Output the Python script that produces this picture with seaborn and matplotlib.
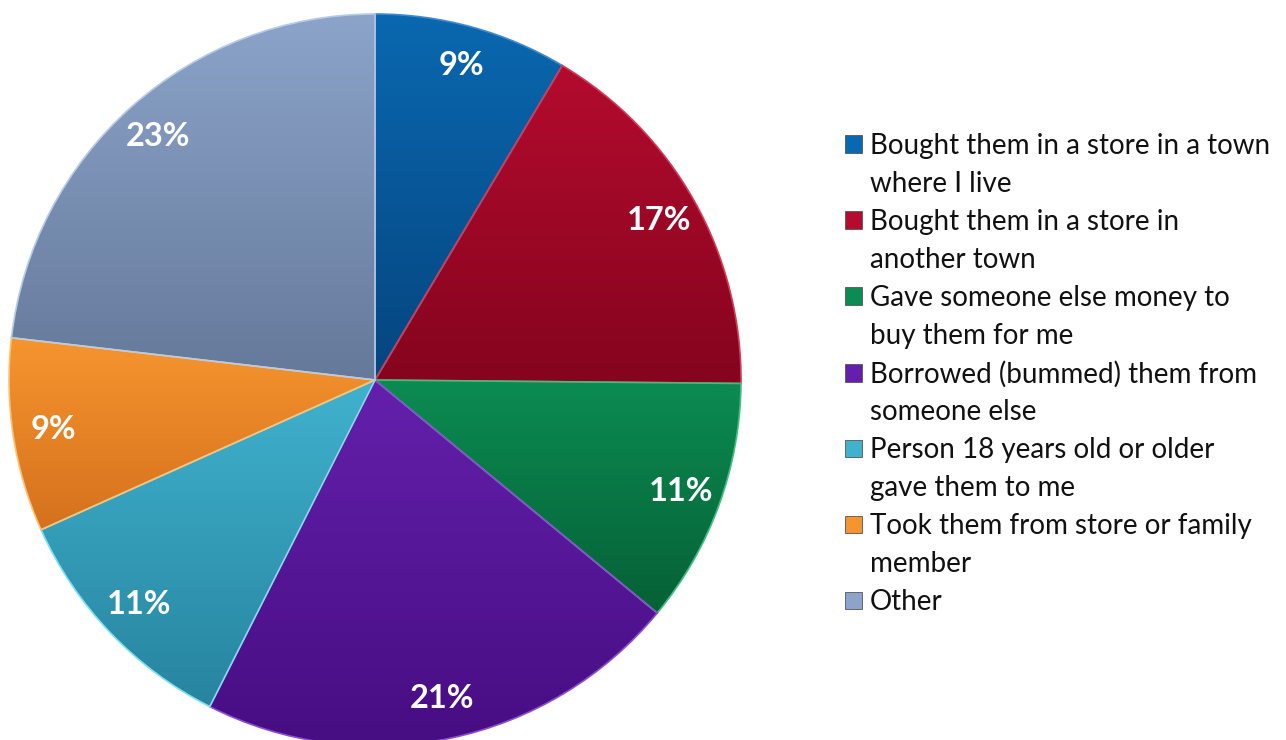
import matplotlib
matplotlib.use("Agg")
import matplotlib.pyplot as plt
import numpy as np
import seaborn as sns
from matplotlib.colors import LinearSegmentedColormap
from matplotlib.patches import Patch

# where the cigarettes came from (share of respondents, %)
sources = [
    "Bought them in a store in a town\nwhere I live",
    "Bought them in a store in\nanother town",
    "Gave someone else money to\nbuy them for me",
    "Borrowed (bummed) them from\nsomeone else",
    "Person 18 years old or older\ngave them to me",
    "Took them from store or family\nmember",
    "Other",
]
shares = [8.6, 16.7, 10.9, 21.6, 10.9, 8.6, 23.3]

# light (top) / dark (bottom) shade per slice
tops = ["#0a68b0", "#b40b2e", "#0b8c52", "#6420ac", "#40b2ce", "#f6952f", "#8ca4ca"]
bottoms = ["#05457f", "#85041e", "#066036", "#470d82", "#27849f", "#d5711d", "#65799a"]
edges = ["#3f8ad0", "#d23a55", "#3fbf7f", "#8a4fd0", "#7fe0f5", "#ffc070", "#b8cbe6"]

sns.set_theme(style="white")
plt.rcParams["font.family"] = ["Lato", "DejaVu Sans"]

fig = plt.figure(figsize=(12.86, 7.40), dpi=100)
ax = fig.add_axes([9 / 1286, -6 / 740, 732 / 1286, 732 / 740])

wedges, texts, autotexts = ax.pie(
    shares,
    colors=tops,
    startangle=90,
    counterclock=False,
    radius=1.0,
    autopct=lambda p: f"{p:.0f}%",
    pctdistance=0.89,
    textprops=dict(color="white", fontsize=23.5, fontweight="bold"),
    wedgeprops=dict(linewidth=1.2),
)

for w, top, bot, ec in zip(wedges, tops, bottoms, edges):
    bb = w.get_path().get_extents()
    cmap = LinearSegmentedColormap.from_list("g", [top, bot])
    grad = np.linspace(0, 1, 256).reshape(-1, 1)
    im = ax.imshow(grad, cmap=cmap, aspect="auto", origin="upper",
                   extent=[bb.x0, bb.x1, bb.y0, bb.y1], zorder=2)
    im.set_clip_path(w)
    w.set_facecolor("none")
    w.set_edgecolor(ec)
    w.set_zorder(3)

for t in autotexts:
    t.set_zorder(5)

ax.set_xlim(-1, 1)
ax.set_ylim(-1, 1)
ax.set_aspect("equal")
ax.axis("off")

# legend: one row per printed line, swatch only on first line
handles, labels = [], []
for src, top in zip(sources, tops):
    for i, line in enumerate(src.split("\n")):
        if i == 0:
            handles.append(Patch(facecolor=top, edgecolor="#555555", linewidth=0.6))
        else:
            handles.append(Patch(facecolor="none", edgecolor="none"))
        labels.append(line)

leg = fig.legend(
    handles, labels,
    loc="upper left",
    bbox_to_anchor=(845 / 1286, 1 - 133 / 740),
    frameon=False,
    fontsize=20,
    handlelength=0.6,
    handleheight=0.6,
    handletextpad=0.3,
    labelspacing=0.43,
    borderpad=0,
    borderaxespad=0,
)
for t in leg.get_texts():
    t.set_color("#111111")

fig.savefig("out.png", dpi=100)
